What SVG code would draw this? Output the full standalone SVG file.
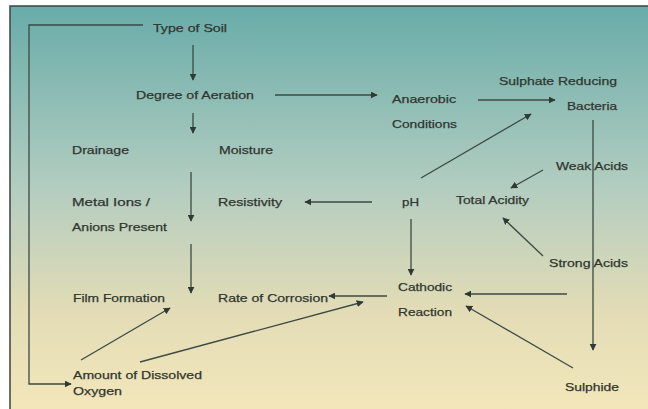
<svg xmlns="http://www.w3.org/2000/svg" width="648" height="409" viewBox="0 0 648 409">
<defs>
<linearGradient id="bg" x1="0" y1="0" x2="0" y2="1">
<stop offset="0" stop-color="#68aca9"/>
<stop offset="0.45" stop-color="#b3cdc0"/>
<stop offset="0.75" stop-color="#e2dcb6"/>
<stop offset="1" stop-color="#f3e7ba"/>
</linearGradient>
<marker id="ah" viewBox="0 0 10 10" refX="9" refY="5" markerWidth="7" markerHeight="7" markerUnits="userSpaceOnUse" orient="auto">
<path d="M0,0 L10,5 L0,10 z" fill="#2e3a33"/>
</marker>
<style>
text{font-family:"Liberation Sans",Arial,sans-serif;font-size:11.5px;fill:#30362f;stroke:#30362f;stroke-width:0.25}
.c line,.c polyline{stroke:#3c4a42;stroke-width:1.3;fill:none}
.a{marker-end:url(#ah)}
</style>
</defs>
<rect x="0" y="0" width="648" height="409" fill="#ffffff"/>
<rect x="10" y="6" width="640" height="405" fill="url(#bg)" stroke="#3a4440" stroke-width="1.5"/>
<g class="c" id="connectors">
<polyline class="a" points="143,25 29,25 29,384 71,384"/>
<line class="a" x1="193" y1="45" x2="193" y2="80"/>
<line class="a" x1="275" y1="95" x2="377" y2="95"/>
<line class="a" x1="193" y1="113" x2="193" y2="133"/>
<line class="a" x1="191" y1="172" x2="191" y2="221"/>
<line class="a" x1="191" y1="244" x2="191" y2="293"/>
<line class="a" x1="372" y1="202" x2="305" y2="202"/>
<line class="a" x1="411" y1="219" x2="411" y2="275"/>
<line class="a" x1="387" y1="296" x2="329" y2="296"/>
<line class="a" x1="81" y1="360" x2="170" y2="308"/>
<line class="a" x1="140" y1="362" x2="363" y2="302"/>
<line class="a" x1="478" y1="100" x2="555" y2="100"/>
<line class="a" x1="421" y1="178" x2="531" y2="114"/>
<line class="a" x1="543" y1="170" x2="511" y2="188"/>
<line class="a" x1="593" y1="120" x2="593" y2="350"/>
<line class="a" x1="543" y1="256" x2="503" y2="218"/>
<line class="a" x1="567" y1="294" x2="465" y2="294"/>
<line class="a" x1="573" y1="368" x2="466" y2="306"/>
</g>
<g id="type-of-soil"><text x="153" y="32" textLength="74" lengthAdjust="spacingAndGlyphs">Type of Soil</text></g>
<g id="degree-of-aeration"><text x="136" y="99" textLength="118" lengthAdjust="spacingAndGlyphs">Degree of Aeration</text></g>
<g id="drainage"><text x="72" y="154" textLength="57" lengthAdjust="spacingAndGlyphs">Drainage</text></g>
<g id="moisture"><text x="219" y="154" textLength="54" lengthAdjust="spacingAndGlyphs">Moisture</text></g>
<g id="metal-ions"><text x="72" y="206" textLength="78" lengthAdjust="spacingAndGlyphs">Metal Ions /</text><text x="72" y="231" textLength="95" lengthAdjust="spacingAndGlyphs">Anions Present</text></g>
<g id="resistivity"><text x="218" y="206" textLength="64" lengthAdjust="spacingAndGlyphs">Resistivity</text></g>
<g id="ph"><text x="402" y="206" textLength="17" lengthAdjust="spacingAndGlyphs">pH</text></g>
<g id="total-acidity"><text x="456" y="204" textLength="73" lengthAdjust="spacingAndGlyphs">Total Acidity</text></g>
<g id="film-formation"><text x="73" y="302" textLength="92" lengthAdjust="spacingAndGlyphs">Film Formation</text></g>
<g id="rate-of-corrosion"><text x="218" y="302" textLength="110" lengthAdjust="spacingAndGlyphs">Rate of Corrosion</text></g>
<g id="cathodic-reaction"><text x="398" y="291" textLength="54" lengthAdjust="spacingAndGlyphs">Cathodic</text><text x="398" y="316" textLength="54" lengthAdjust="spacingAndGlyphs">Reaction</text></g>
<g id="dissolved-oxygen"><text x="73" y="379" textLength="129" lengthAdjust="spacingAndGlyphs">Amount of Dissolved</text><text x="73" y="395" textLength="49" lengthAdjust="spacingAndGlyphs">Oxygen</text></g>
<g id="anaerobic-conditions"><text x="392" y="103" textLength="64" lengthAdjust="spacingAndGlyphs">Anaerobic</text><text x="392" y="128" textLength="65" lengthAdjust="spacingAndGlyphs">Conditions</text></g>
<g id="srb"><text x="499" y="85" textLength="118" lengthAdjust="spacingAndGlyphs">Sulphate Reducing</text><text x="567" y="110" textLength="50" lengthAdjust="spacingAndGlyphs">Bacteria</text></g>
<g id="weak-acids"><text x="556" y="170" textLength="72" lengthAdjust="spacingAndGlyphs">Weak Acids</text></g>
<g id="strong-acids"><text x="549" y="267" textLength="79" lengthAdjust="spacingAndGlyphs">Strong Acids</text></g>
<g id="sulphide"><text x="565" y="391" textLength="54" lengthAdjust="spacingAndGlyphs">Sulphide</text></g>
</svg>
